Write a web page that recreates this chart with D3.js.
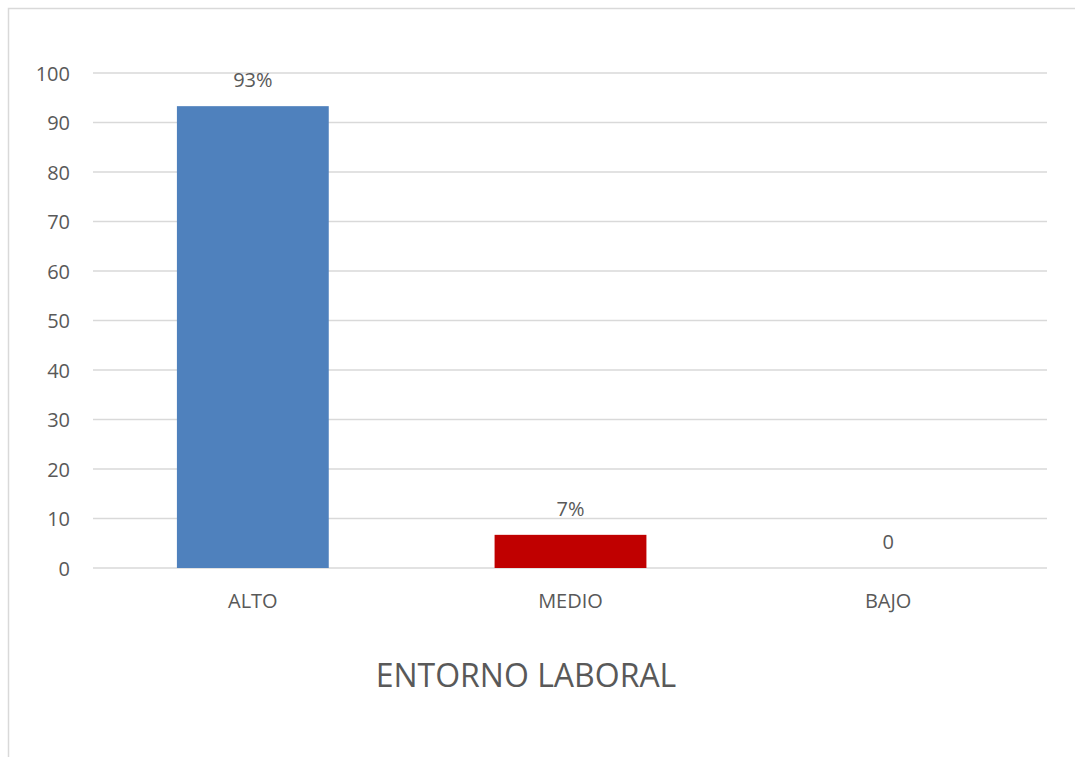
<!DOCTYPE html>
<html>
<head>
<meta charset="utf-8">
<script src="https://cdn.jsdelivr.net/npm/d3@7"></script>
<style>
  html, body { margin: 0; padding: 0; background: #fff; }
  svg { display: block; }
  text { font-family: "Open Sans", "Liberation Sans", sans-serif; fill: #595959; }
</style>
</head>
<body>
<svg id="chart" width="1075" height="757"></svg>
<script>
// Data
const categories = ["ALTO", "MEDIO", "BAJO"];
const values = [93.3, 6.7, 0];
const valueLabels = ["93%", "7%", "0"];
const barColors = ["#4f81bd", "#c00000", "#9bbb59"];
const yTicks = [0, 10, 20, 30, 40, 50, 60, 70, 80, 90, 100];
const title = "ENTORNO LABORAL";

const svg = d3.select("#chart");
const W = 1075, H = 757;
const fontSize = 20;

// Chart frame
svg.append("rect")
  .attr("x", 8.5).attr("y", 8.5)
  .attr("width", W + 10).attr("height", H + 10)
  .attr("fill", "#fff")
  .attr("stroke", "#d9d9d9")
  .attr("stroke-width", 1.5);

const plot = { left: 93, right: 1047, top: 73, bottom: 568 };

const x = d3.scaleBand()
  .domain(categories)
  .range([plot.left + 1, plot.right])
  .paddingInner(0.522)
  .paddingOuter(0.261);

const y = d3.scaleLinear()
  .domain([0, 100])
  .range([plot.bottom, plot.top]);

// Gridlines
svg.append("g")
  .selectAll("line")
  .data(yTicks)
  .join("line")
  .attr("x1", plot.left).attr("x2", plot.right)
  .attr("y1", d => y(d)).attr("y2", d => y(d))
  .attr("stroke", "#d9d9d9")
  .attr("stroke-width", 1.5);

// Y axis labels
const yAxis = d3.axisLeft(y).tickValues(yTicks).tickSize(0).tickPadding(0);
const gy = svg.append("g")
  .attr("transform", `translate(${plot.left - 23},0)`)
  .call(yAxis);
gy.select(".domain").remove();
gy.selectAll("text")
  .attr("font-size", fontSize)
  .attr("dy", "0.35em")
  .style("font-family", '"Open Sans", sans-serif')
  .attr("fill", "#595959");

// Bars
svg.append("g")
  .selectAll("rect")
  .data(categories)
  .join("rect")
  .attr("x", d => x(d))
  .attr("width", x.bandwidth())
  .attr("y", (d, i) => y(values[i]))
  .attr("height", (d, i) => y(0) - y(values[i]))
  .attr("fill", (d, i) => barColors[i]);

// Value labels
svg.append("g")
  .selectAll("text")
  .data(categories)
  .join("text")
  .attr("x", d => x(d) + x.bandwidth() / 2)
  .attr("y", (d, i) => y(values[i]) - 19)
  .attr("text-anchor", "middle")
  .attr("font-size", fontSize)
  .text((d, i) => valueLabels[i]);

// X axis labels
const xAxis = d3.axisBottom(x).tickSize(0).tickPadding(0);
const gx = svg.append("g")
  .attr("transform", `translate(0,${plot.bottom})`)
  .call(xAxis);
gx.select(".domain").remove();
gx.selectAll("text")
  .attr("y", 40)
  .attr("dy", 0)
  .attr("font-size", fontSize)
  .style("font-family", '"Open Sans", sans-serif')
  .attr("fill", "#595959");

// Axis title
svg.append("text")
  .attr("x", (plot.left + plot.right) / 2 - 44)
  .attr("y", 687)
  .attr("text-anchor", "middle")
  .attr("font-size", 32)
  .text(title);
</script>
</body>
</html>
